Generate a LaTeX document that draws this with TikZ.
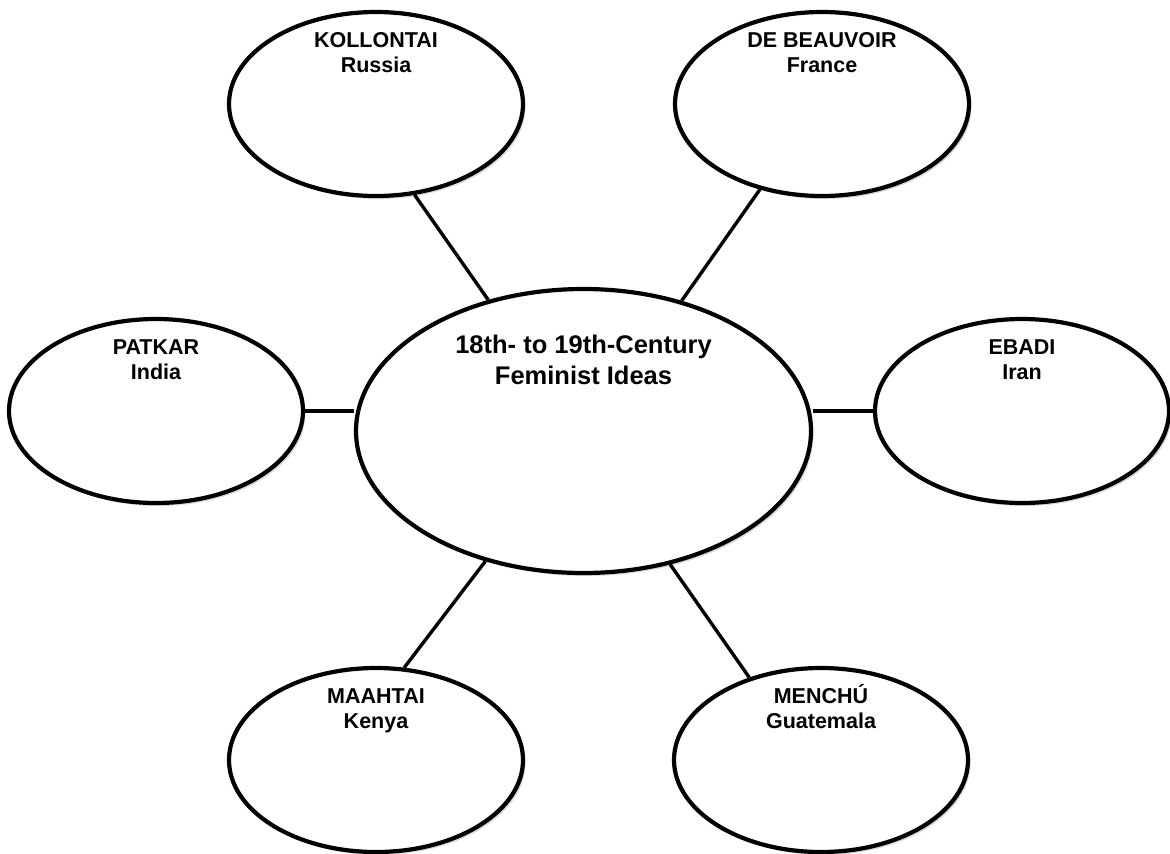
\documentclass[tikz,border=0pt]{standalone}
\usepackage{fontspec}
\setmainfont{Liberation Sans}
\usetikzlibrary{shapes.geometric,shadows}

\begin{document}
\begin{tikzpicture}[x=1pt,y=-1pt,
  outer/.style={ellipse,draw,line width=4.2pt,fill=white,minimum width=294pt,minimum height=184pt,
    drop shadow={shadow xshift=2.5pt,shadow yshift=-3pt,opacity=.3}},
  hub/.style={outer,minimum width=455pt,minimum height=284pt},
  link/.style={line width=3.4pt}]
  \useasboundingbox (0,0) rectangle (1170,854);
  \node[hub,label={[anchor=north,yshift=-45pt,align=center,font=\bfseries\fontsize{25.5}{31}\selectfont]north:{18th- to 19th-Century\\Feminist Ideas}}] (hub) at (583.5,431) {};
  \foreach \nm/\x/\y/\who/\where in {kollontai/376/104/KOLLONTAI/Russia,debeauvoir/822/104/{DE BEAUVOIR}/France,
      patkar/156/411/PATKAR/India,ebadi/1022/411/EBADI/Iran,maahtai/376/760/MAAHTAI/Kenya,menchu/821/760/MENCHÚ/Guatemala}
    \node[outer,label={[anchor=north,yshift=-14pt,align=center,font=\bfseries\fontsize{21.5}{25}\selectfont]north:{\rule{0pt}{0.95em}\who\\\where}}] (\nm) at (\x,\y) {};
  \foreach \nm/\a/\b in {kollontai/293/126.5,debeauvoir/234/53.5,maahtai/73.5/233,menchu/131/303.5}
    \draw[link] (\nm.\a) -- (hub.\b);
  \draw[link] (patkar.east) -- (patkar.east -| hub.west);
  \draw[link] (ebadi.west) -- (ebadi.west -| hub.east);
\end{tikzpicture}
\end{document}
